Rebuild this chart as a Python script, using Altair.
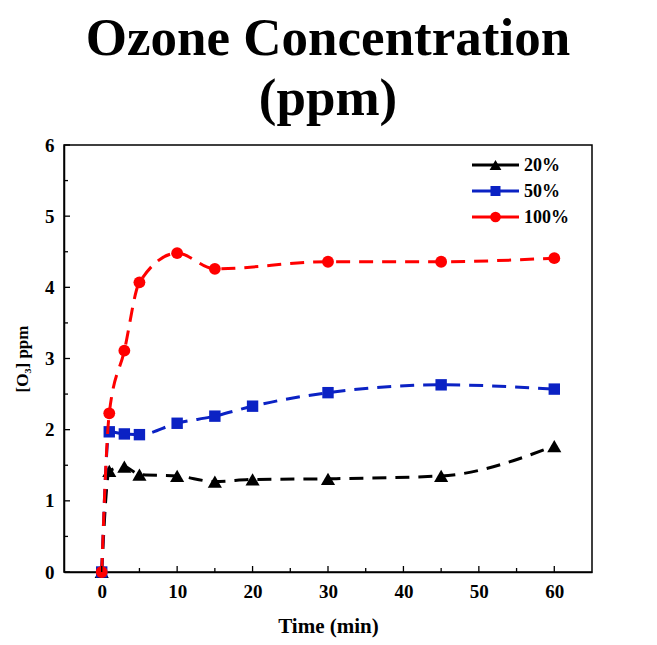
import altair as alt
import pandas as pd

# ---- data ----
series_names = ["20%", "50%", "100%"]
t_20 = [0, 1, 3, 5, 10, 15, 20, 30, 45, 60]
v_20 = [0, 1.42, 1.48, 1.37, 1.35, 1.27, 1.30, 1.31, 1.35, 1.77]
t_50 = [0, 1, 3, 5, 10, 15, 20, 30, 45, 60]
v_50 = [0, 1.97, 1.94, 1.93, 2.09, 2.19, 2.33, 2.52, 2.63, 2.57]
t_100 = [0, 1, 3, 5, 10, 15, 30, 45, 60]
v_100 = [0, 2.23, 3.11, 4.07, 4.48, 4.26, 4.36, 4.36, 4.41]

colors = ["#000000", "#0b22c4", "#ff0000"]
shapes = ["triangle-up", "square", "circle"]

x_major = [0, 10, 20, 30, 40, 50, 60]
x_minor = [5, 15, 25, 35, 45, 55]
y_major = [0, 1, 2, 3, 4, 5, 6]
y_minor = [0.5, 1.5, 2.5, 3.5, 4.5, 5.5]

W, H = 528, 427
FONT = "Liberation Serif"

frames = []
for name, t, v in [("20%", t_20, v_20), ("50%", t_50, v_50), ("100%", t_100, v_100)]:
    frames.append(pd.DataFrame({"t": t, "v": v, "s": name}))
df = pd.concat(frames, ignore_index=True)

xs = alt.Scale(domain=[-5, 65], nice=False, zero=False)
ys = alt.Scale(domain=[0, 6], nice=False)

marker_size = {"triangle-up": 200, "square": 130, "circle": 140}
legend_size = {"triangle-up": 140, "square": 100, "circle": 115}

layers = []
for name, col, shp in zip(series_names, colors, shapes):
    sub = df[df.s == name]
    line = alt.Chart(sub).mark_line(
        color=col, strokeWidth=3, strokeDash=[14, 9], interpolate="monotone"
    ).encode(
        x=alt.X("t:Q", scale=xs, title="Time (min)",
                axis=alt.Axis(values=x_major, ticks=False, grid=False, format="d")),
        y=alt.Y("v:Q", scale=ys, title="[O₃] ppm",
                axis=alt.Axis(values=y_major, ticks=False, grid=False, format="d")),
    )
    pts = alt.Chart(sub).mark_point(
        shape=shp, filled=True, color=col, size=marker_size[shp], opacity=1
    ).encode(x=alt.X("t:Q", scale=xs), y=alt.Y("v:Q", scale=ys))
    layers += [line, pts]

# inward ticks
def ytick(vals, ln):
    return alt.Chart(pd.DataFrame({"v": vals})).mark_rule(color="black", strokeWidth=1.3).encode(
        y=alt.Y("v:Q", scale=ys), x=alt.value(0), x2=alt.value(ln))

def xtick(vals, ln):
    return alt.Chart(pd.DataFrame({"t": vals})).mark_rule(color="black", strokeWidth=1.3).encode(
        x=alt.X("t:Q", scale=xs), y=alt.value(H), y2=alt.value(H - ln))

layers += [ytick(y_major, 6), ytick(y_minor, 4), xtick(x_major, 6), xtick(x_minor, 4)]

# legend (top right, inside plot)
leg_x0, leg_y0, leg_dy, leg_len = 408, 20, 26, 47
for i, (name, col, shp) in enumerate(zip(series_names, colors, shapes)):
    yy = leg_y0 + i * leg_dy
    d = pd.DataFrame({"label": [name]})
    layers.append(alt.Chart(d).mark_rule(color=col, strokeWidth=3).encode(
        x=alt.value(leg_x0), x2=alt.value(leg_x0 + leg_len), y=alt.value(yy)))
    layers.append(alt.Chart(d).mark_point(shape=shp, filled=True, color=col,
                                          size=legend_size[shp], opacity=1).encode(
        x=alt.value(leg_x0 + leg_len / 2), y=alt.value(yy)))
    layers.append(alt.Chart(d).mark_text(
        align="left", baseline="middle", font=FONT, fontWeight="bold", fontSize=18, color="black"
    ).encode(x=alt.value(leg_x0 + leg_len + 5), y=alt.value(yy + 1), text="label:N"))

chart = alt.layer(*layers).properties(
    width=W, height=H,
    title=alt.TitleParams(
        text=["Ozone Concentration", "(ppm)"], font=FONT, fontSize=53, fontWeight="bold",
        color="black", lineHeight=60, anchor="middle", offset=10,
    ),
).configure_view(
    stroke="black", strokeWidth=1.5
).configure_axis(
    domainColor="black", domainWidth=1.5,
    labelFont=FONT, labelFontWeight="bold", labelFontSize=19, labelColor="black",
    titleFont=FONT, titleFontWeight="bold", titleColor="black",
    labelPadding=10,
).configure_axisX(titlePadding=14, titleFontSize=21).configure_axisY(titlePadding=13, titleFontSize=17)

chart.save("out.html", embed_options={"renderer": "svg", "actions": False})
